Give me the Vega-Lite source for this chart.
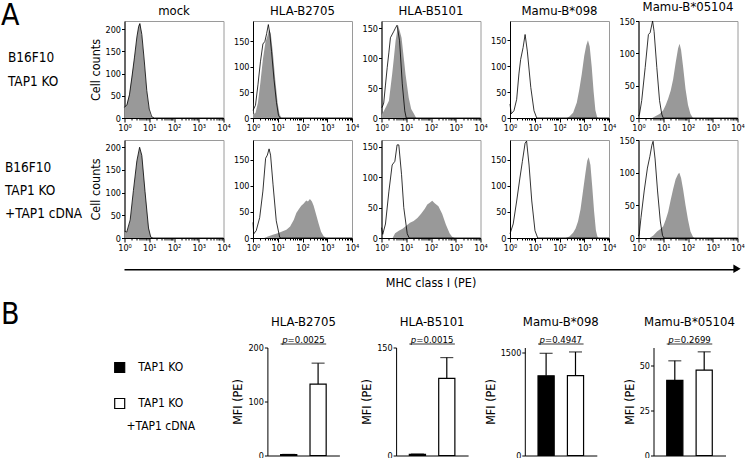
{
  "$schema": "https://vega.github.io/schema/vega-lite/v6.json",
  "padding": {"left": 1, "top": 0, "right": 0, "bottom": 0},
  "config": {
    "font": "DejaVu Sans Condensed, DejaVu Sans, sans-serif",
    "view": {"stroke": "#9a9a9a"},
    "axis": {"domainColor": "black", "tickColor": "black", "labelColor": "black", "titleColor": "black", "labelFontSize": 9, "titleFontSize": 12.5, "titleFontWeight": "normal", "tickSize": 3, "labelPadding": 1, "titlePadding": 3, "grid": false},
    "axisX": {"labelFlush": false, "labelOverlap": false},
    "title": {"fontSize": 13, "fontWeight": "normal", "color": "black", "baseline": "alphabetic", "offset": 3.5, "frame": "group"},
    "text": {"color": "black"}
  },
  "datasets": {
    "rows": [
      {"r": 1, "label": "B16F10\nTAP1 KO"},
      {"r": 2, "label": "B16F10\nTAP1 KO\n+TAP1 cDNA"}
    ],
    "hist": [
      {"p":"mock","r":1,"s":"f","x":0,"c":22},{"p":"mock","r":1,"s":"f","x":0.1,"c":32},{"p":"mock","r":1,"s":"f","x":0.2,"c":55},{"p":"mock","r":1,"s":"f","x":0.3,"c":95},{"p":"mock","r":1,"s":"f","x":0.4,"c":135},{"p":"mock","r":1,"s":"f","x":0.5,"c":180},{"p":"mock","r":1,"s":"f","x":0.58,"c":210},{"p":"mock","r":1,"s":"f","x":0.63,"c":214},{"p":"mock","r":1,"s":"f","x":0.7,"c":185},{"p":"mock","r":1,"s":"f","x":0.8,"c":125},{"p":"mock","r":1,"s":"f","x":0.9,"c":60},{"p":"mock","r":1,"s":"f","x":1,"c":18},{"p":"mock","r":1,"s":"f","x":1.05,"c":7},{"p":"mock","r":1,"s":"f","x":1.1,"c":2},{"p":"mock","r":1,"s":"f","x":1.2,"c":0},
      {"p":"mock","r":1,"s":"o","x":0,"c":24},{"p":"mock","r":1,"s":"o","x":0.1,"c":30},{"p":"mock","r":1,"s":"o","x":0.2,"c":52},{"p":"mock","r":1,"s":"o","x":0.3,"c":92},{"p":"mock","r":1,"s":"o","x":0.4,"c":135},{"p":"mock","r":1,"s":"o","x":0.5,"c":182},{"p":"mock","r":1,"s":"o","x":0.57,"c":205},{"p":"mock","r":1,"s":"o","x":0.62,"c":212},{"p":"mock","r":1,"s":"o","x":0.7,"c":188},{"p":"mock","r":1,"s":"o","x":0.8,"c":128},{"p":"mock","r":1,"s":"o","x":0.9,"c":62},{"p":"mock","r":1,"s":"o","x":1,"c":20},{"p":"mock","r":1,"s":"o","x":1.1,"c":3},{"p":"mock","r":1,"s":"o","x":1.2,"c":0},{"p":"mock","r":1,"s":"o","x":4,"c":0},
      {"p":"B2705","r":1,"s":"f","x":0,"c":34},{"p":"B2705","r":1,"s":"f","x":0.02,"c":8},{"p":"B2705","r":1,"s":"f","x":0.1,"c":10},{"p":"B2705","r":1,"s":"f","x":0.2,"c":30},{"p":"B2705","r":1,"s":"f","x":0.3,"c":70},{"p":"B2705","r":1,"s":"f","x":0.4,"c":115},{"p":"B2705","r":1,"s":"f","x":0.5,"c":148},{"p":"B2705","r":1,"s":"f","x":0.58,"c":160},{"p":"B2705","r":1,"s":"f","x":0.65,"c":174},{"p":"B2705","r":1,"s":"f","x":0.72,"c":165},{"p":"B2705","r":1,"s":"f","x":0.8,"c":130},{"p":"B2705","r":1,"s":"f","x":0.9,"c":75},{"p":"B2705","r":1,"s":"f","x":1,"c":28},{"p":"B2705","r":1,"s":"f","x":1.07,"c":8},{"p":"B2705","r":1,"s":"f","x":1.15,"c":0},
      {"p":"B2705","r":1,"s":"o","x":0,"c":15},{"p":"B2705","r":1,"s":"o","x":0.1,"c":25},{"p":"B2705","r":1,"s":"o","x":0.2,"c":65},{"p":"B2705","r":1,"s":"o","x":0.3,"c":110},{"p":"B2705","r":1,"s":"o","x":0.4,"c":145},{"p":"B2705","r":1,"s":"o","x":0.48,"c":150},{"p":"B2705","r":1,"s":"o","x":0.55,"c":165},{"p":"B2705","r":1,"s":"o","x":0.62,"c":183},{"p":"B2705","r":1,"s":"o","x":0.68,"c":165},{"p":"B2705","r":1,"s":"o","x":0.75,"c":130},{"p":"B2705","r":1,"s":"o","x":0.85,"c":75},{"p":"B2705","r":1,"s":"o","x":0.95,"c":30},{"p":"B2705","r":1,"s":"o","x":1.03,"c":5},{"p":"B2705","r":1,"s":"o","x":1.1,"c":0},{"p":"B2705","r":1,"s":"o","x":4,"c":0},
      {"p":"B5101","r":1,"s":"f","x":0,"c":5},{"p":"B5101","r":1,"s":"f","x":0.1,"c":12},{"p":"B5101","r":1,"s":"f","x":0.2,"c":20},{"p":"B5101","r":1,"s":"f","x":0.3,"c":29},{"p":"B5101","r":1,"s":"f","x":0.43,"c":73},{"p":"B5101","r":1,"s":"f","x":0.5,"c":100},{"p":"B5101","r":1,"s":"f","x":0.57,"c":129},{"p":"B5101","r":1,"s":"f","x":0.67,"c":155},{"p":"B5101","r":1,"s":"f","x":0.74,"c":145},{"p":"B5101","r":1,"s":"f","x":0.81,"c":134},{"p":"B5101","r":1,"s":"f","x":0.9,"c":100},{"p":"B5101","r":1,"s":"f","x":0.97,"c":73},{"p":"B5101","r":1,"s":"f","x":1.1,"c":34},{"p":"B5101","r":1,"s":"f","x":1.2,"c":15},{"p":"B5101","r":1,"s":"f","x":1.31,"c":7},{"p":"B5101","r":1,"s":"f","x":1.4,"c":0},
      {"p":"B5101","r":1,"s":"o","x":0,"c":18},{"p":"B5101","r":1,"s":"o","x":0.03,"c":18},{"p":"B5101","r":1,"s":"o","x":0.09,"c":25},{"p":"B5101","r":1,"s":"o","x":0.16,"c":55},{"p":"B5101","r":1,"s":"o","x":0.23,"c":84},{"p":"B5101","r":1,"s":"o","x":0.3,"c":110},{"p":"B5101","r":1,"s":"o","x":0.36,"c":134},{"p":"B5101","r":1,"s":"o","x":0.5,"c":145},{"p":"B5101","r":1,"s":"o","x":0.56,"c":150},{"p":"B5101","r":1,"s":"o","x":0.63,"c":155},{"p":"B5101","r":1,"s":"o","x":0.73,"c":129},{"p":"B5101","r":1,"s":"o","x":0.84,"c":57},{"p":"B5101","r":1,"s":"o","x":0.94,"c":12},{"p":"B5101","r":1,"s":"o","x":1,"c":0},{"p":"B5101","r":1,"s":"o","x":4,"c":0},
      {"p":"B098","r":1,"s":"o","x":0,"c":27},{"p":"B098","r":1,"s":"o","x":0.05,"c":8},{"p":"B098","r":1,"s":"o","x":0.16,"c":14},{"p":"B098","r":1,"s":"o","x":0.27,"c":36},{"p":"B098","r":1,"s":"o","x":0.36,"c":85},{"p":"B098","r":1,"s":"o","x":0.43,"c":113},{"p":"B098","r":1,"s":"o","x":0.53,"c":136},{"p":"B098","r":1,"s":"o","x":0.61,"c":161},{"p":"B098","r":1,"s":"o","x":0.7,"c":129},{"p":"B098","r":1,"s":"o","x":0.84,"c":59},{"p":"B098","r":1,"s":"o","x":0.97,"c":14},{"p":"B098","r":1,"s":"o","x":1.08,"c":0},{"p":"B098","r":1,"s":"o","x":4,"c":0},
      {"p":"B098","r":1,"s":"f","x":2.3,"c":0},{"p":"B098","r":1,"s":"f","x":2.4,"c":3},{"p":"B098","r":1,"s":"f","x":2.55,"c":10},{"p":"B098","r":1,"s":"f","x":2.7,"c":30},{"p":"B098","r":1,"s":"f","x":2.8,"c":55},{"p":"B098","r":1,"s":"f","x":2.9,"c":85},{"p":"B098","r":1,"s":"f","x":3,"c":120},{"p":"B098","r":1,"s":"f","x":3.08,"c":140},{"p":"B098","r":1,"s":"f","x":3.15,"c":150},{"p":"B098","r":1,"s":"f","x":3.22,"c":138},{"p":"B098","r":1,"s":"f","x":3.3,"c":100},{"p":"B098","r":1,"s":"f","x":3.38,"c":50},{"p":"B098","r":1,"s":"f","x":3.45,"c":15},{"p":"B098","r":1,"s":"f","x":3.52,"c":2},{"p":"B098","r":1,"s":"f","x":3.56,"c":0},
      {"p":"B05104","r":1,"s":"o","x":0,"c":3},{"p":"B05104","r":1,"s":"o","x":0.04,"c":6},{"p":"B05104","r":1,"s":"o","x":0.13,"c":27},{"p":"B05104","r":1,"s":"o","x":0.27,"c":78},{"p":"B05104","r":1,"s":"o","x":0.4,"c":129},{"p":"B05104","r":1,"s":"o","x":0.47,"c":132},{"p":"B05104","r":1,"s":"o","x":0.57,"c":150},{"p":"B05104","r":1,"s":"o","x":0.63,"c":134},{"p":"B05104","r":1,"s":"o","x":0.74,"c":78},{"p":"B05104","r":1,"s":"o","x":0.85,"c":27},{"p":"B05104","r":1,"s":"o","x":0.94,"c":6},{"p":"B05104","r":1,"s":"o","x":1,"c":0},{"p":"B05104","r":1,"s":"o","x":4,"c":0},
      {"p":"B05104","r":1,"s":"f","x":0.55,"c":0},{"p":"B05104","r":1,"s":"f","x":0.7,"c":3},{"p":"B05104","r":1,"s":"f","x":0.85,"c":6},{"p":"B05104","r":1,"s":"f","x":1,"c":12},{"p":"B05104","r":1,"s":"f","x":1.1,"c":20},{"p":"B05104","r":1,"s":"f","x":1.2,"c":30},{"p":"B05104","r":1,"s":"f","x":1.3,"c":42},{"p":"B05104","r":1,"s":"f","x":1.4,"c":60},{"p":"B05104","r":1,"s":"f","x":1.5,"c":85},{"p":"B05104","r":1,"s":"f","x":1.6,"c":108},{"p":"B05104","r":1,"s":"f","x":1.66,"c":115},{"p":"B05104","r":1,"s":"f","x":1.72,"c":105},{"p":"B05104","r":1,"s":"f","x":1.8,"c":80},{"p":"B05104","r":1,"s":"f","x":1.9,"c":45},{"p":"B05104","r":1,"s":"f","x":2,"c":20},{"p":"B05104","r":1,"s":"f","x":2.1,"c":6},{"p":"B05104","r":1,"s":"f","x":2.2,"c":0},
      {"p":"mock","r":2,"s":"f","x":0,"c":16},{"p":"mock","r":2,"s":"f","x":0.09,"c":12},{"p":"mock","r":2,"s":"f","x":0.23,"c":38},{"p":"mock","r":2,"s":"f","x":0.36,"c":103},{"p":"mock","r":2,"s":"f","x":0.5,"c":169},{"p":"mock","r":2,"s":"f","x":0.61,"c":199},{"p":"mock","r":2,"s":"f","x":0.7,"c":183},{"p":"mock","r":2,"s":"f","x":0.83,"c":103},{"p":"mock","r":2,"s":"f","x":0.97,"c":23},{"p":"mock","r":2,"s":"f","x":1.06,"c":2},{"p":"mock","r":2,"s":"f","x":1.15,"c":0},
      {"p":"mock","r":2,"s":"o","x":0,"c":15},{"p":"mock","r":2,"s":"o","x":0.09,"c":13},{"p":"mock","r":2,"s":"o","x":0.23,"c":40},{"p":"mock","r":2,"s":"o","x":0.36,"c":105},{"p":"mock","r":2,"s":"o","x":0.5,"c":170},{"p":"mock","r":2,"s":"o","x":0.61,"c":200},{"p":"mock","r":2,"s":"o","x":0.7,"c":182},{"p":"mock","r":2,"s":"o","x":0.83,"c":102},{"p":"mock","r":2,"s":"o","x":0.97,"c":22},{"p":"mock","r":2,"s":"o","x":1.06,"c":2},{"p":"mock","r":2,"s":"o","x":1.15,"c":0},{"p":"mock","r":2,"s":"o","x":4,"c":0},
      {"p":"B2705","r":2,"s":"o","x":0,"c":30},{"p":"B2705","r":2,"s":"o","x":0.03,"c":8},{"p":"B2705","r":2,"s":"o","x":0.13,"c":14},{"p":"B2705","r":2,"s":"o","x":0.27,"c":39},{"p":"B2705","r":2,"s":"o","x":0.4,"c":90},{"p":"B2705","r":2,"s":"o","x":0.51,"c":153},{"p":"B2705","r":2,"s":"o","x":0.58,"c":159},{"p":"B2705","r":2,"s":"o","x":0.65,"c":171},{"p":"B2705","r":2,"s":"o","x":0.71,"c":159},{"p":"B2705","r":2,"s":"o","x":0.81,"c":102},{"p":"B2705","r":2,"s":"o","x":0.94,"c":33},{"p":"B2705","r":2,"s":"o","x":1.08,"c":1},{"p":"B2705","r":2,"s":"o","x":1.15,"c":0},{"p":"B2705","r":2,"s":"o","x":4,"c":0},
      {"p":"B2705","r":2,"s":"f","x":0.45,"c":0},{"p":"B2705","r":2,"s":"f","x":0.6,"c":3},{"p":"B2705","r":2,"s":"f","x":0.8,"c":6},{"p":"B2705","r":2,"s":"f","x":1,"c":9},{"p":"B2705","r":2,"s":"f","x":1.2,"c":13},{"p":"B2705","r":2,"s":"f","x":1.35,"c":16},{"p":"B2705","r":2,"s":"f","x":1.5,"c":22},{"p":"B2705","r":2,"s":"f","x":1.65,"c":35},{"p":"B2705","r":2,"s":"f","x":1.75,"c":48},{"p":"B2705","r":2,"s":"f","x":1.85,"c":55},{"p":"B2705","r":2,"s":"f","x":1.95,"c":62},{"p":"B2705","r":2,"s":"f","x":2.05,"c":66},{"p":"B2705","r":2,"s":"f","x":2.15,"c":72},{"p":"B2705","r":2,"s":"f","x":2.22,"c":70},{"p":"B2705","r":2,"s":"f","x":2.3,"c":75},{"p":"B2705","r":2,"s":"f","x":2.38,"c":70},{"p":"B2705","r":2,"s":"f","x":2.45,"c":62},{"p":"B2705","r":2,"s":"f","x":2.55,"c":45},{"p":"B2705","r":2,"s":"f","x":2.65,"c":28},{"p":"B2705","r":2,"s":"f","x":2.75,"c":12},{"p":"B2705","r":2,"s":"f","x":2.85,"c":4},{"p":"B2705","r":2,"s":"f","x":2.95,"c":0},
      {"p":"B5101","r":2,"s":"o","x":0,"c":17},{"p":"B5101","r":2,"s":"o","x":0.05,"c":6},{"p":"B5101","r":2,"s":"o","x":0.16,"c":23},{"p":"B5101","r":2,"s":"o","x":0.3,"c":77},{"p":"B5101","r":2,"s":"o","x":0.43,"c":120},{"p":"B5101","r":2,"s":"o","x":0.54,"c":126},{"p":"B5101","r":2,"s":"o","x":0.63,"c":153},{"p":"B5101","r":2,"s":"o","x":0.7,"c":153},{"p":"B5101","r":2,"s":"o","x":0.81,"c":104},{"p":"B5101","r":2,"s":"o","x":0.9,"c":50},{"p":"B5101","r":2,"s":"o","x":1.04,"c":7},{"p":"B5101","r":2,"s":"o","x":1.12,"c":0},{"p":"B5101","r":2,"s":"o","x":4,"c":0},
      {"p":"B5101","r":2,"s":"f","x":0.45,"c":0},{"p":"B5101","r":2,"s":"f","x":0.55,"c":8},{"p":"B5101","r":2,"s":"f","x":0.7,"c":12},{"p":"B5101","r":2,"s":"f","x":0.85,"c":15},{"p":"B5101","r":2,"s":"f","x":1,"c":20},{"p":"B5101","r":2,"s":"f","x":1.15,"c":25},{"p":"B5101","r":2,"s":"f","x":1.3,"c":28},{"p":"B5101","r":2,"s":"f","x":1.45,"c":33},{"p":"B5101","r":2,"s":"f","x":1.6,"c":40},{"p":"B5101","r":2,"s":"f","x":1.75,"c":48},{"p":"B5101","r":2,"s":"f","x":1.85,"c":55},{"p":"B5101","r":2,"s":"f","x":1.95,"c":58},{"p":"B5101","r":2,"s":"f","x":2.05,"c":61},{"p":"B5101","r":2,"s":"f","x":2.15,"c":57},{"p":"B5101","r":2,"s":"f","x":2.3,"c":52},{"p":"B5101","r":2,"s":"f","x":2.45,"c":40},{"p":"B5101","r":2,"s":"f","x":2.6,"c":22},{"p":"B5101","r":2,"s":"f","x":2.75,"c":8},{"p":"B5101","r":2,"s":"f","x":2.85,"c":2},{"p":"B5101","r":2,"s":"f","x":2.95,"c":0},
      {"p":"B098","r":2,"s":"o","x":0,"c":8},{"p":"B098","r":2,"s":"o","x":0.13,"c":27},{"p":"B098","r":2,"s":"o","x":0.27,"c":71},{"p":"B098","r":2,"s":"o","x":0.4,"c":115},{"p":"B098","r":2,"s":"o","x":0.5,"c":147},{"p":"B098","r":2,"s":"o","x":0.61,"c":182},{"p":"B098","r":2,"s":"o","x":0.67,"c":186},{"p":"B098","r":2,"s":"o","x":0.77,"c":140},{"p":"B098","r":2,"s":"o","x":0.88,"c":71},{"p":"B098","r":2,"s":"o","x":1.01,"c":14},{"p":"B098","r":2,"s":"o","x":1.12,"c":0},{"p":"B098","r":2,"s":"o","x":4,"c":0},
      {"p":"B098","r":2,"s":"f","x":2.25,"c":0},{"p":"B098","r":2,"s":"f","x":2.4,"c":3},{"p":"B098","r":2,"s":"f","x":2.55,"c":10},{"p":"B098","r":2,"s":"f","x":2.65,"c":18},{"p":"B098","r":2,"s":"f","x":2.75,"c":32},{"p":"B098","r":2,"s":"f","x":2.85,"c":55},{"p":"B098","r":2,"s":"f","x":2.95,"c":90},{"p":"B098","r":2,"s":"f","x":3.05,"c":125},{"p":"B098","r":2,"s":"f","x":3.12,"c":148},{"p":"B098","r":2,"s":"f","x":3.18,"c":155},{"p":"B098","r":2,"s":"f","x":3.25,"c":140},{"p":"B098","r":2,"s":"f","x":3.32,"c":100},{"p":"B098","r":2,"s":"f","x":3.4,"c":50},{"p":"B098","r":2,"s":"f","x":3.47,"c":15},{"p":"B098","r":2,"s":"f","x":3.53,"c":3},{"p":"B098","r":2,"s":"f","x":3.58,"c":0},
      {"p":"B05104","r":2,"s":"o","x":0,"c":3},{"p":"B05104","r":2,"s":"o","x":0.03,"c":6},{"p":"B05104","r":2,"s":"o","x":0.1,"c":31},{"p":"B05104","r":2,"s":"o","x":0.23,"c":72},{"p":"B05104","r":2,"s":"o","x":0.36,"c":107},{"p":"B05104","r":2,"s":"o","x":0.46,"c":125},{"p":"B05104","r":2,"s":"o","x":0.54,"c":142},{"p":"B05104","r":2,"s":"o","x":0.59,"c":148},{"p":"B05104","r":2,"s":"o","x":0.67,"c":121},{"p":"B05104","r":2,"s":"o","x":0.77,"c":72},{"p":"B05104","r":2,"s":"o","x":0.88,"c":26},{"p":"B05104","r":2,"s":"o","x":0.97,"c":4},{"p":"B05104","r":2,"s":"o","x":1.03,"c":0},{"p":"B05104","r":2,"s":"o","x":4,"c":0},
      {"p":"B05104","r":2,"s":"f","x":0.45,"c":0},{"p":"B05104","r":2,"s":"f","x":0.6,"c":4},{"p":"B05104","r":2,"s":"f","x":0.75,"c":10},{"p":"B05104","r":2,"s":"f","x":0.9,"c":14},{"p":"B05104","r":2,"s":"f","x":1,"c":18},{"p":"B05104","r":2,"s":"f","x":1.1,"c":28},{"p":"B05104","r":2,"s":"f","x":1.2,"c":40},{"p":"B05104","r":2,"s":"f","x":1.3,"c":58},{"p":"B05104","r":2,"s":"f","x":1.4,"c":75},{"p":"B05104","r":2,"s":"f","x":1.5,"c":90},{"p":"B05104","r":2,"s":"f","x":1.6,"c":98},{"p":"B05104","r":2,"s":"f","x":1.65,"c":100},{"p":"B05104","r":2,"s":"f","x":1.72,"c":92},{"p":"B05104","r":2,"s":"f","x":1.8,"c":75},{"p":"B05104","r":2,"s":"f","x":1.9,"c":50},{"p":"B05104","r":2,"s":"f","x":2,"c":28},{"p":"B05104","r":2,"s":"f","x":2.1,"c":10},{"p":"B05104","r":2,"s":"f","x":2.2,"c":2},{"p":"B05104","r":2,"s":"f","x":2.25,"c":0}
    ],
    "bars": [
      {"panel": "HLA-B2705", "g": "TAP1 KO", "mfi": 1.5, "upper": 2},
      {"panel": "HLA-B2705", "g": "TAP1 KO\n+TAP1 cDNA", "mfi": 132, "upper": 171},
      {"panel": "HLA-B5101", "g": "TAP1 KO", "mfi": 1.5, "upper": 2},
      {"panel": "HLA-B5101", "g": "TAP1 KO\n+TAP1 cDNA", "mfi": 107, "upper": 136},
      {"panel": "Mamu-B*098", "g": "TAP1 KO", "mfi": 1165, "upper": 1495},
      {"panel": "Mamu-B*098", "g": "TAP1 KO\n+TAP1 cDNA", "mfi": 1170, "upper": 1515},
      {"panel": "Mamu-B*05104", "g": "TAP1 KO", "mfi": 41.7, "upper": 52.6},
      {"panel": "Mamu-B*05104", "g": "TAP1 KO\n+TAP1 cDNA", "mfi": 47.4, "upper": 57.6}
    ],
    "pvals": [
      {"panel": "HLA-B2705", "eq": "=0.0025"},
      {"panel": "HLA-B5101", "eq": "=0.0015"},
      {"panel": "Mamu-B*098", "eq": "=0.4947"},
      {"panel": "Mamu-B*05104", "eq": "=0.2699"}
    ]
  },
  "spacing": 10.5,
  "vconcat": [
    {"spacing": 11.3, "vconcat": [
      {"spacing": 2, "vconcat": [
        {"bounds": "flush", "spacing": 29.5, "hconcat": [
          {"width": 93.5, "height": 97, "view": {"stroke": null},
           "title": {"text": "A", "anchor": "start", "fontSize": 30, "offset": -10},
           "data": {"name": "rows"}, "transform": [{"filter": "datum.r == 1"}],
           "mark": {"type": "text", "align": "left", "baseline": "middle", "fontSize": 13.5, "lineBreak": "\n", "lineHeight": 24, "dx": 7, "dy": -12},
           "encoding": {"x": {"datum": 0, "type": "quantitative", "scale": {"domain": [0, 1]}, "axis": null}, "text": {"field": "label"}}},
          {"width": 99, "height": 97, "title": "mock", "data": {"name": "hist"}, "transform": [{"filter": "datum.p == 'mock' && datum.r == 1"}],
           "encoding": {"x": {"field": "x", "type": "quantitative", "scale": {"domain": [0, 4]}, "axis": {"title": null, "values": [0,0.30103,0.47712,0.60206,0.69897,0.77815,0.8451,0.90309,0.95424,1,1.30103,1.47712,1.60206,1.69897,1.77815,1.8451,1.90309,1.95424,2,2.30103,2.47712,2.60206,2.69897,2.77815,2.8451,2.90309,2.95424,3,3.30103,3.47712,3.60206,3.69897,3.77815,3.8451,3.90309,3.95424,4], "labelExpr": "datum.value % 1 == 0 ? '10' + (datum.value == 0 ? '⁰' : datum.value == 1 ? '¹' : datum.value == 2 ? '²' : datum.value == 3 ? '³' : '⁴') : ''", "tickSize": {"condition": {"test": "datum.value % 1 == 0", "value": 4}, "value": 2}}},
                        "y": {"field": "c", "type": "quantitative", "scale": {"domain": [0, 218]}, "axis": {"values": [0, 50, 100, 150, 200], "title": "Cell counts"}}},
           "layer": [{"transform": [{"filter": "datum.s == 'f'"}], "mark": {"type": "area", "color": "#999999"}},
                     {"transform": [{"filter": "datum.s == 'o'"}], "mark": {"type": "line", "color": "black", "strokeWidth": 0.8}}]},
          {"width": 99, "height": 97, "title": "HLA-B2705", "data": {"name": "hist"}, "transform": [{"filter": "datum.p == 'B2705' && datum.r == 1"}],
           "encoding": {"x": {"field": "x", "type": "quantitative", "scale": {"domain": [0, 4]}, "axis": {"title": null, "values": [0,0.30103,0.47712,0.60206,0.69897,0.77815,0.8451,0.90309,0.95424,1,1.30103,1.47712,1.60206,1.69897,1.77815,1.8451,1.90309,1.95424,2,2.30103,2.47712,2.60206,2.69897,2.77815,2.8451,2.90309,2.95424,3,3.30103,3.47712,3.60206,3.69897,3.77815,3.8451,3.90309,3.95424,4], "labelExpr": "datum.value % 1 == 0 ? '10' + (datum.value == 0 ? '⁰' : datum.value == 1 ? '¹' : datum.value == 2 ? '²' : datum.value == 3 ? '³' : '⁴') : ''", "tickSize": {"condition": {"test": "datum.value % 1 == 0", "value": 4}, "value": 2}}},
                        "y": {"field": "c", "type": "quantitative", "scale": {"domain": [0, 190]}, "axis": {"values": [0, 50, 100, 150], "title": null}}},
           "layer": [{"transform": [{"filter": "datum.s == 'f'"}], "mark": {"type": "area", "color": "#999999"}},
                     {"transform": [{"filter": "datum.s == 'o'"}], "mark": {"type": "line", "color": "black", "strokeWidth": 0.8}}]},
          {"width": 99, "height": 97, "title": "HLA-B5101", "data": {"name": "hist"}, "transform": [{"filter": "datum.p == 'B5101' && datum.r == 1"}],
           "encoding": {"x": {"field": "x", "type": "quantitative", "scale": {"domain": [0, 4]}, "axis": {"title": null, "values": [0,0.30103,0.47712,0.60206,0.69897,0.77815,0.8451,0.90309,0.95424,1,1.30103,1.47712,1.60206,1.69897,1.77815,1.8451,1.90309,1.95424,2,2.30103,2.47712,2.60206,2.69897,2.77815,2.8451,2.90309,2.95424,3,3.30103,3.47712,3.60206,3.69897,3.77815,3.8451,3.90309,3.95424,4], "labelExpr": "datum.value % 1 == 0 ? '10' + (datum.value == 0 ? '⁰' : datum.value == 1 ? '¹' : datum.value == 2 ? '²' : datum.value == 3 ? '³' : '⁴') : ''", "tickSize": {"condition": {"test": "datum.value % 1 == 0", "value": 4}, "value": 2}}},
                        "y": {"field": "c", "type": "quantitative", "scale": {"domain": [0, 162]}, "axis": {"values": [0, 50, 100, 150], "title": null}}},
           "layer": [{"transform": [{"filter": "datum.s == 'f'"}], "mark": {"type": "area", "color": "#999999"}},
                     {"transform": [{"filter": "datum.s == 'o'"}], "mark": {"type": "line", "color": "black", "strokeWidth": 0.8}}]},
          {"width": 99, "height": 97, "title": "Mamu-B*098", "data": {"name": "hist"}, "transform": [{"filter": "datum.p == 'B098' && datum.r == 1"}],
           "encoding": {"x": {"field": "x", "type": "quantitative", "scale": {"domain": [0, 4]}, "axis": {"title": null, "values": [0,0.30103,0.47712,0.60206,0.69897,0.77815,0.8451,0.90309,0.95424,1,1.30103,1.47712,1.60206,1.69897,1.77815,1.8451,1.90309,1.95424,2,2.30103,2.47712,2.60206,2.69897,2.77815,2.8451,2.90309,2.95424,3,3.30103,3.47712,3.60206,3.69897,3.77815,3.8451,3.90309,3.95424,4], "labelExpr": "datum.value % 1 == 0 ? '10' + (datum.value == 0 ? '⁰' : datum.value == 1 ? '¹' : datum.value == 2 ? '²' : datum.value == 3 ? '³' : '⁴') : ''", "tickSize": {"condition": {"test": "datum.value % 1 == 0", "value": 4}, "value": 2}}},
                        "y": {"field": "c", "type": "quantitative", "scale": {"domain": [0, 187]}, "axis": {"values": [0, 50, 100, 150], "title": null}}},
           "layer": [{"transform": [{"filter": "datum.s == 'f'"}], "mark": {"type": "area", "color": "#999999"}},
                     {"transform": [{"filter": "datum.s == 'o'"}], "mark": {"type": "line", "color": "black", "strokeWidth": 0.8}}]},
          {"width": 99, "height": 97, "title": "Mamu-B*05104", "data": {"name": "hist"}, "transform": [{"filter": "datum.p == 'B05104' && datum.r == 1"}],
           "encoding": {"x": {"field": "x", "type": "quantitative", "scale": {"domain": [0, 4]}, "axis": {"title": null, "values": [0,0.30103,0.47712,0.60206,0.69897,0.77815,0.8451,0.90309,0.95424,1,1.30103,1.47712,1.60206,1.69897,1.77815,1.8451,1.90309,1.95424,2,2.30103,2.47712,2.60206,2.69897,2.77815,2.8451,2.90309,2.95424,3,3.30103,3.47712,3.60206,3.69897,3.77815,3.8451,3.90309,3.95424,4], "labelExpr": "datum.value % 1 == 0 ? '10' + (datum.value == 0 ? '⁰' : datum.value == 1 ? '¹' : datum.value == 2 ? '²' : datum.value == 3 ? '³' : '⁴') : ''", "tickSize": {"condition": {"test": "datum.value % 1 == 0", "value": 4}, "value": 2}}},
                        "y": {"field": "c", "type": "quantitative", "scale": {"domain": [0, 150]}, "axis": {"values": [0, 50, 100, 150], "title": null}}},
           "layer": [{"transform": [{"filter": "datum.s == 'f'"}], "mark": {"type": "area", "color": "#999999"}},
                     {"transform": [{"filter": "datum.s == 'o'"}], "mark": {"type": "line", "color": "black", "strokeWidth": 0.8}}]}
        ]},
        {"bounds": "flush", "spacing": 29.5, "hconcat": [
          {"width": 93.5, "height": 98, "view": {"stroke": null},
           "data": {"name": "rows"}, "transform": [{"filter": "datum.r == 2"}],
           "mark": {"type": "text", "align": "left", "baseline": "middle", "fontSize": 13.5, "lineBreak": "\n", "lineHeight": 23, "dx": 4, "dy": -21},
           "encoding": {"x": {"datum": 0, "type": "quantitative", "scale": {"domain": [0, 1]}, "axis": null}, "text": {"field": "label"}}},
          {"width": 99, "height": 98, "data": {"name": "hist"}, "transform": [{"filter": "datum.p == 'mock' && datum.r == 2"}],
           "encoding": {"x": {"field": "x", "type": "quantitative", "scale": {"domain": [0, 4]}, "axis": {"title": null, "values": [0,0.30103,0.47712,0.60206,0.69897,0.77815,0.8451,0.90309,0.95424,1,1.30103,1.47712,1.60206,1.69897,1.77815,1.8451,1.90309,1.95424,2,2.30103,2.47712,2.60206,2.69897,2.77815,2.8451,2.90309,2.95424,3,3.30103,3.47712,3.60206,3.69897,3.77815,3.8451,3.90309,3.95424,4], "labelExpr": "datum.value % 1 == 0 ? '10' + (datum.value == 0 ? '⁰' : datum.value == 1 ? '¹' : datum.value == 2 ? '²' : datum.value == 3 ? '³' : '⁴') : ''", "tickSize": {"condition": {"test": "datum.value % 1 == 0", "value": 4}, "value": 2}}},
                        "y": {"field": "c", "type": "quantitative", "scale": {"domain": [0, 216]}, "axis": {"values": [0, 50, 100, 150, 200], "title": "Cell counts"}}},
           "layer": [{"transform": [{"filter": "datum.s == 'f'"}], "mark": {"type": "area", "color": "#999999"}},
                     {"transform": [{"filter": "datum.s == 'o'"}], "mark": {"type": "line", "color": "black", "strokeWidth": 0.8}}]},
          {"width": 99, "height": 98, "data": {"name": "hist"}, "transform": [{"filter": "datum.p == 'B2705' && datum.r == 2"}],
           "encoding": {"x": {"field": "x", "type": "quantitative", "scale": {"domain": [0, 4]}, "axis": {"title": null, "values": [0,0.30103,0.47712,0.60206,0.69897,0.77815,0.8451,0.90309,0.95424,1,1.30103,1.47712,1.60206,1.69897,1.77815,1.8451,1.90309,1.95424,2,2.30103,2.47712,2.60206,2.69897,2.77815,2.8451,2.90309,2.95424,3,3.30103,3.47712,3.60206,3.69897,3.77815,3.8451,3.90309,3.95424,4], "labelExpr": "datum.value % 1 == 0 ? '10' + (datum.value == 0 ? '⁰' : datum.value == 1 ? '¹' : datum.value == 2 ? '²' : datum.value == 3 ? '³' : '⁴') : ''", "tickSize": {"condition": {"test": "datum.value % 1 == 0", "value": 4}, "value": 2}}},
                        "y": {"field": "c", "type": "quantitative", "scale": {"domain": [0, 188]}, "axis": {"values": [0, 50, 100, 150], "title": null}}},
           "layer": [{"transform": [{"filter": "datum.s == 'f'"}], "mark": {"type": "area", "color": "#999999"}},
                     {"transform": [{"filter": "datum.s == 'o'"}], "mark": {"type": "line", "color": "black", "strokeWidth": 0.8}}]},
          {"width": 99, "height": 98, "data": {"name": "hist"}, "transform": [{"filter": "datum.p == 'B5101' && datum.r == 2"}],
           "encoding": {"x": {"field": "x", "type": "quantitative", "scale": {"domain": [0, 4]}, "axis": {"title": null, "values": [0,0.30103,0.47712,0.60206,0.69897,0.77815,0.8451,0.90309,0.95424,1,1.30103,1.47712,1.60206,1.69897,1.77815,1.8451,1.90309,1.95424,2,2.30103,2.47712,2.60206,2.69897,2.77815,2.8451,2.90309,2.95424,3,3.30103,3.47712,3.60206,3.69897,3.77815,3.8451,3.90309,3.95424,4], "labelExpr": "datum.value % 1 == 0 ? '10' + (datum.value == 0 ? '⁰' : datum.value == 1 ? '¹' : datum.value == 2 ? '²' : datum.value == 3 ? '³' : '⁴') : ''", "tickSize": {"condition": {"test": "datum.value % 1 == 0", "value": 4}, "value": 2}}},
                        "y": {"field": "c", "type": "quantitative", "scale": {"domain": [0, 161]}, "axis": {"values": [0, 50, 100, 150], "title": null}}},
           "layer": [{"transform": [{"filter": "datum.s == 'f'"}], "mark": {"type": "area", "color": "#999999"}},
                     {"transform": [{"filter": "datum.s == 'o'"}], "mark": {"type": "line", "color": "black", "strokeWidth": 0.8}}]},
          {"width": 99, "height": 98, "data": {"name": "hist"}, "transform": [{"filter": "datum.p == 'B098' && datum.r == 2"}],
           "encoding": {"x": {"field": "x", "type": "quantitative", "scale": {"domain": [0, 4]}, "axis": {"title": null, "values": [0,0.30103,0.47712,0.60206,0.69897,0.77815,0.8451,0.90309,0.95424,1,1.30103,1.47712,1.60206,1.69897,1.77815,1.8451,1.90309,1.95424,2,2.30103,2.47712,2.60206,2.69897,2.77815,2.8451,2.90309,2.95424,3,3.30103,3.47712,3.60206,3.69897,3.77815,3.8451,3.90309,3.95424,4], "labelExpr": "datum.value % 1 == 0 ? '10' + (datum.value == 0 ? '⁰' : datum.value == 1 ? '¹' : datum.value == 2 ? '²' : datum.value == 3 ? '³' : '⁴') : ''", "tickSize": {"condition": {"test": "datum.value % 1 == 0", "value": 4}, "value": 2}}},
                        "y": {"field": "c", "type": "quantitative", "scale": {"domain": [0, 188]}, "axis": {"values": [0, 50, 100, 150], "title": null}}},
           "layer": [{"transform": [{"filter": "datum.s == 'f'"}], "mark": {"type": "area", "color": "#999999"}},
                     {"transform": [{"filter": "datum.s == 'o'"}], "mark": {"type": "line", "color": "black", "strokeWidth": 0.8}}]},
          {"width": 99, "height": 98, "data": {"name": "hist"}, "transform": [{"filter": "datum.p == 'B05104' && datum.r == 2"}],
           "encoding": {"x": {"field": "x", "type": "quantitative", "scale": {"domain": [0, 4]}, "axis": {"title": null, "values": [0,0.30103,0.47712,0.60206,0.69897,0.77815,0.8451,0.90309,0.95424,1,1.30103,1.47712,1.60206,1.69897,1.77815,1.8451,1.90309,1.95424,2,2.30103,2.47712,2.60206,2.69897,2.77815,2.8451,2.90309,2.95424,3,3.30103,3.47712,3.60206,3.69897,3.77815,3.8451,3.90309,3.95424,4], "labelExpr": "datum.value % 1 == 0 ? '10' + (datum.value == 0 ? '⁰' : datum.value == 1 ? '¹' : datum.value == 2 ? '²' : datum.value == 3 ? '³' : '⁴') : ''", "tickSize": {"condition": {"test": "datum.value % 1 == 0", "value": 4}, "value": 2}}},
                        "y": {"field": "c", "type": "quantitative", "scale": {"domain": [0, 150]}, "axis": {"values": [0, 50, 100, 150], "title": null}}},
           "layer": [{"transform": [{"filter": "datum.s == 'f'"}], "mark": {"type": "area", "color": "#999999"}},
                     {"transform": [{"filter": "datum.s == 'o'"}], "mark": {"type": "line", "color": "black", "strokeWidth": 0.8}}]}
        ]}
      ]},
      {"bounds": "flush", "spacing": 0, "hconcat": [
        {"width": 123, "height": 1, "view": {"stroke": null}, "data": {"values": []}, "mark": "point"},
        {"width": 613, "height": 1, "view": {"stroke": null},
         "data": {"values": [{"end": 1}]},
         "mark": {"type": "point", "shape": "triangle-right", "filled": true, "color": "black", "size": 70, "opacity": 1},
         "encoding": {"x": {"field": "end", "type": "quantitative", "scale": {"domain": [0, 1]}, "axis": {"title": "MHC class I (PE)", "labels": false, "ticks": false, "domainWidth": 1.5, "titleFontSize": 12.5, "titlePadding": 7}}}}
      ]}
    ]},
    {"bounds": "flush", "spacing": 56.7, "hconcat": [
      {"width": 61.3, "height": 108, "view": {"stroke": null},
       "title": {"text": "B", "anchor": "start", "fontSize": 30, "offset": 18},
       "data": {"values": []}, "mark": "point"},
      {"width": 90.3, "height": 108, "view": {"stroke": null},
       "data": {"name": "bars"}, "transform": [{"filter": "datum.panel == 'HLA-B2705'"}],
       "encoding": {"y": {"field": "g", "type": "nominal", "scale": {"type": "point", "domain": ["TAP1 KO", "TAP1 KO\n+TAP1 cDNA"], "padding": 1.16, "align": 0.278}, "axis": null}},
       "layer": [
         {"mark": {"type": "square", "size": 100, "stroke": "black", "strokeWidth": 1.2, "opacity": 1},
          "encoding": {"x": {"datum": 0, "type": "quantitative", "scale": {"domain": [0, 2.2]}, "axis": null},
                       "fill": {"field": "g", "type": "nominal", "scale": {"domain": ["TAP1 KO", "TAP1 KO\n+TAP1 cDNA"], "range": ["black", "white"]}, "legend": null}}},
         {"mark": {"type": "text", "align": "center", "baseline": "line-top", "dy": -11.5, "fontSize": 12, "lineBreak": "\n", "lineHeight": 23},
          "encoding": {"x": {"datum": 1, "type": "quantitative"}, "text": {"field": "g"}}}
       ]},
      {"width": 72, "height": 108, "view": {"stroke": null},
       "layer": [
         {"data": {"name": "bars"}, "transform": [{"filter": "datum.panel == 'HLA-B2705'"}],
          "encoding": {"x": {"field": "g", "type": "nominal", "scale": {"domain": ["TAP1 KO", "TAP1 KO\n+TAP1 cDNA"], "paddingInner": 0.45, "paddingOuter": 0.45}, "axis": {"title": null, "labels": false, "ticks": false}},
                       "y": {"field": "mfi", "type": "quantitative", "scale": {"domain": [0, 200], "nice": false}, "axis": {"values": [0, 50, 100, 150, 200], "title": "MFI (PE)"}}},
          "layer": [
            {"mark": {"type": "rule", "color": "black", "strokeWidth": 1.2}, "encoding": {"y2": {"field": "upper"}}},
            {"mark": {"type": "tick", "color": "black", "thickness": 1.2, "size": 13}, "encoding": {"y": {"field": "upper", "type": "quantitative"}}},
            {"mark": {"type": "bar", "stroke": "black", "strokeWidth": 1.2}, "encoding": {"fill": {"field": "g", "type": "nominal", "scale": {"domain": ["TAP1 KO", "TAP1 KO\n+TAP1 cDNA"], "range": ["black", "white"]}, "legend": null}}}
          ]},
         {"data": {"name": "pvals"}, "transform": [{"filter": "datum.panel == 'HLA-B2705'"}],
          "layer": [
            {"mark": {"type": "text", "baseline": "alphabetic", "fontSize": 13, "dy": -22}, "encoding": {"y": {"datum": 200, "type": "quantitative"}, "text": {"field": "panel"}}},
            {"mark": {"type": "text", "text": "p", "fontStyle": "italic", "align": "right", "baseline": "alphabetic", "fontSize": 9.5, "dx": -15.8, "dy": -5}, "encoding": {"y": {"datum": 200, "type": "quantitative"}}},
            {"mark": {"type": "text", "align": "left", "baseline": "alphabetic", "fontSize": 9.5, "dx": -15.8, "dy": -5}, "encoding": {"y": {"datum": 200, "type": "quantitative"}, "text": {"field": "eq"}}},
            {"mark": {"type": "rule", "color": "black", "strokeWidth": 0.8, "yOffset": -3.5}, "encoding": {"x": {"datum": "TAP1 KO", "bandPosition": 0}, "x2": {"datum": "TAP1 KO\n+TAP1 cDNA", "bandPosition": 1}, "y": {"datum": 200, "type": "quantitative"}}}
          ]}
       ]},
      {"width": 72, "height": 108, "view": {"stroke": null},
       "layer": [
         {"data": {"name": "bars"}, "transform": [{"filter": "datum.panel == 'HLA-B5101'"}],
          "encoding": {"x": {"field": "g", "type": "nominal", "scale": {"domain": ["TAP1 KO", "TAP1 KO\n+TAP1 cDNA"], "paddingInner": 0.45, "paddingOuter": 0.45}, "axis": {"title": null, "labels": false, "ticks": false}},
                       "y": {"field": "mfi", "type": "quantitative", "scale": {"domain": [0, 150], "nice": false}, "axis": {"values": [0, 50, 100, 150], "title": "MFI (PE)"}}},
          "layer": [
            {"mark": {"type": "rule", "color": "black", "strokeWidth": 1.2}, "encoding": {"y2": {"field": "upper"}}},
            {"mark": {"type": "tick", "color": "black", "thickness": 1.2, "size": 13}, "encoding": {"y": {"field": "upper", "type": "quantitative"}}},
            {"mark": {"type": "bar", "stroke": "black", "strokeWidth": 1.2}, "encoding": {"fill": {"field": "g", "type": "nominal", "scale": {"domain": ["TAP1 KO", "TAP1 KO\n+TAP1 cDNA"], "range": ["black", "white"]}, "legend": null}}}
          ]},
         {"data": {"name": "pvals"}, "transform": [{"filter": "datum.panel == 'HLA-B5101'"}],
          "layer": [
            {"mark": {"type": "text", "baseline": "alphabetic", "fontSize": 13, "dy": -22}, "encoding": {"y": {"datum": 150, "type": "quantitative"}, "text": {"field": "panel"}}},
            {"mark": {"type": "text", "text": "p", "fontStyle": "italic", "align": "right", "baseline": "alphabetic", "fontSize": 9.5, "dx": -15.8, "dy": -5}, "encoding": {"y": {"datum": 150, "type": "quantitative"}}},
            {"mark": {"type": "text", "align": "left", "baseline": "alphabetic", "fontSize": 9.5, "dx": -15.8, "dy": -5}, "encoding": {"y": {"datum": 150, "type": "quantitative"}, "text": {"field": "eq"}}},
            {"mark": {"type": "rule", "color": "black", "strokeWidth": 0.8, "yOffset": -3.5}, "encoding": {"x": {"datum": "TAP1 KO", "bandPosition": 0}, "x2": {"datum": "TAP1 KO\n+TAP1 cDNA", "bandPosition": 1}, "y": {"datum": 150, "type": "quantitative"}}}
          ]}
       ]},
      {"width": 72, "height": 108, "view": {"stroke": null},
       "layer": [
         {"data": {"name": "bars"}, "transform": [{"filter": "datum.panel == 'Mamu-B*098'"}],
          "encoding": {"x": {"field": "g", "type": "nominal", "scale": {"domain": ["TAP1 KO", "TAP1 KO\n+TAP1 cDNA"], "paddingInner": 0.45, "paddingOuter": 0.45}, "axis": {"title": null, "labels": false, "ticks": false}},
                       "y": {"field": "mfi", "type": "quantitative", "scale": {"domain": [0, 1580], "nice": false}, "axis": {"values": [0, 500, 1000, 1500], "format": "d", "title": "MFI (PE)"}}},
          "layer": [
            {"mark": {"type": "rule", "color": "black", "strokeWidth": 1.2}, "encoding": {"y2": {"field": "upper"}}},
            {"mark": {"type": "tick", "color": "black", "thickness": 1.2, "size": 13}, "encoding": {"y": {"field": "upper", "type": "quantitative"}}},
            {"mark": {"type": "bar", "stroke": "black", "strokeWidth": 1.2}, "encoding": {"fill": {"field": "g", "type": "nominal", "scale": {"domain": ["TAP1 KO", "TAP1 KO\n+TAP1 cDNA"], "range": ["black", "white"]}, "legend": null}}}
          ]},
         {"data": {"name": "pvals"}, "transform": [{"filter": "datum.panel == 'Mamu-B*098'"}],
          "layer": [
            {"mark": {"type": "text", "baseline": "alphabetic", "fontSize": 13, "dy": -22}, "encoding": {"y": {"datum": 1580, "type": "quantitative"}, "text": {"field": "panel"}}},
            {"mark": {"type": "text", "text": "p", "fontStyle": "italic", "align": "right", "baseline": "alphabetic", "fontSize": 9.5, "dx": -15.8, "dy": -5}, "encoding": {"y": {"datum": 1580, "type": "quantitative"}}},
            {"mark": {"type": "text", "align": "left", "baseline": "alphabetic", "fontSize": 9.5, "dx": -15.8, "dy": -5}, "encoding": {"y": {"datum": 1580, "type": "quantitative"}, "text": {"field": "eq"}}},
            {"mark": {"type": "rule", "color": "black", "strokeWidth": 0.8, "yOffset": -3.5}, "encoding": {"x": {"datum": "TAP1 KO", "bandPosition": 0}, "x2": {"datum": "TAP1 KO\n+TAP1 cDNA", "bandPosition": 1}, "y": {"datum": 1580, "type": "quantitative"}}}
          ]}
       ]},
      {"width": 72, "height": 108, "view": {"stroke": null},
       "layer": [
         {"data": {"name": "bars"}, "transform": [{"filter": "datum.panel == 'Mamu-B*05104'"}],
          "encoding": {"x": {"field": "g", "type": "nominal", "scale": {"domain": ["TAP1 KO", "TAP1 KO\n+TAP1 cDNA"], "paddingInner": 0.45, "paddingOuter": 0.45}, "axis": {"title": null, "labels": false, "ticks": false}},
                       "y": {"field": "mfi", "type": "quantitative", "scale": {"domain": [0, 60], "nice": false}, "axis": {"values": [0, 25, 50], "title": "MFI (PE)"}}},
          "layer": [
            {"mark": {"type": "rule", "color": "black", "strokeWidth": 1.2}, "encoding": {"y2": {"field": "upper"}}},
            {"mark": {"type": "tick", "color": "black", "thickness": 1.2, "size": 13}, "encoding": {"y": {"field": "upper", "type": "quantitative"}}},
            {"mark": {"type": "bar", "stroke": "black", "strokeWidth": 1.2}, "encoding": {"fill": {"field": "g", "type": "nominal", "scale": {"domain": ["TAP1 KO", "TAP1 KO\n+TAP1 cDNA"], "range": ["black", "white"]}, "legend": null}}}
          ]},
         {"data": {"name": "pvals"}, "transform": [{"filter": "datum.panel == 'Mamu-B*05104'"}],
          "layer": [
            {"mark": {"type": "text", "baseline": "alphabetic", "fontSize": 13, "dy": -22}, "encoding": {"y": {"datum": 60, "type": "quantitative"}, "text": {"field": "panel"}}},
            {"mark": {"type": "text", "text": "p", "fontStyle": "italic", "align": "right", "baseline": "alphabetic", "fontSize": 9.5, "dx": -15.8, "dy": -5}, "encoding": {"y": {"datum": 60, "type": "quantitative"}}},
            {"mark": {"type": "text", "align": "left", "baseline": "alphabetic", "fontSize": 9.5, "dx": -15.8, "dy": -5}, "encoding": {"y": {"datum": 60, "type": "quantitative"}, "text": {"field": "eq"}}},
            {"mark": {"type": "rule", "color": "black", "strokeWidth": 0.8, "yOffset": -3.5}, "encoding": {"x": {"datum": "TAP1 KO", "bandPosition": 0}, "x2": {"datum": "TAP1 KO\n+TAP1 cDNA", "bandPosition": 1}, "y": {"datum": 60, "type": "quantitative"}}}
          ]}
       ]}
    ]}
  ]
}
